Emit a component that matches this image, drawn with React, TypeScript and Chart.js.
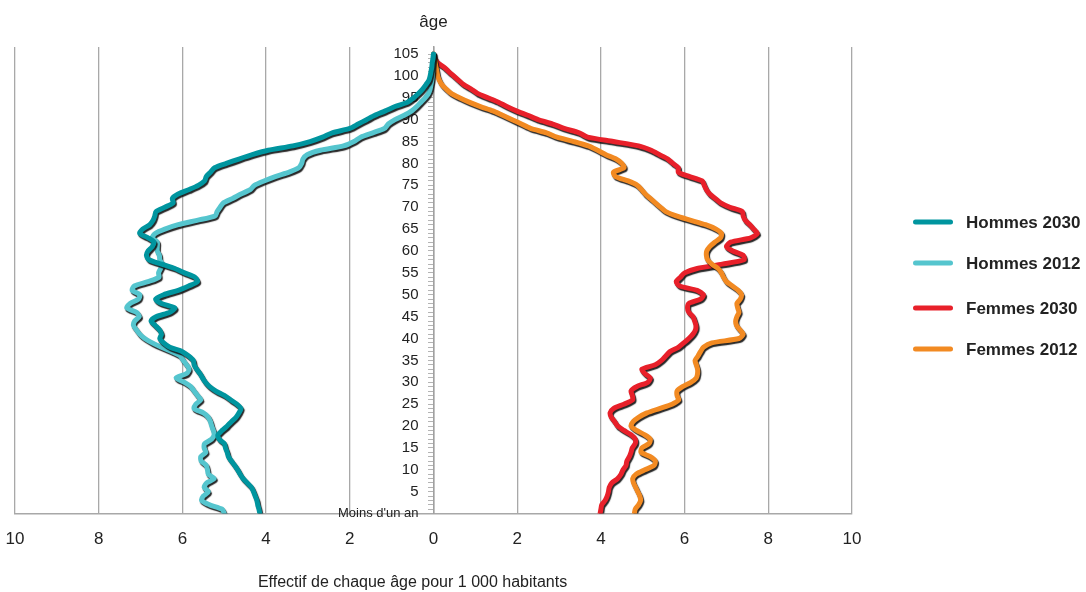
import { useEffect, useRef } from "react";
import { Chart, registerables } from "chart.js";

Chart.register(...registerables);

// Ages (y categories)
const ages = [
  0, 1, 2, 3, 4, 5, 6, 7, 8, 9, 10, 11, 12, 13, 14, 15, 16, 17, 18, 19,
  20, 21, 22, 23, 24, 25, 26, 27, 28, 29, 30, 31, 32, 33, 34, 35, 36, 37, 38, 39,
  40, 41, 42, 43, 44, 45, 46, 47, 48, 49, 50, 51, 52, 53, 54, 55, 56, 57, 58, 59,
  60, 61, 62, 63, 64, 65, 66, 67, 68, 69, 70, 71, 72, 73, 74, 75, 76, 77, 78, 79,
  80, 81, 82, 83, 84, 85, 86, 87, 88, 89, 90, 91, 92, 93, 94, 95, 96, 97, 98, 99,
  100, 101, 102, 103, 104, 105,
];

// Effectif de chaque âge pour 1 000 habitants
const hommes2030 = [
  4.15, 4.17, 4.2, 4.22, 4.26, 4.3, 4.35, 4.45, 4.55, 4.62,
  4.68, 4.75, 4.83, 4.9, 4.93, 4.97, 5.0, 5.12, 5.15, 5.05,
  4.93, 4.83, 4.72, 4.65, 4.6, 4.7, 4.85, 5.0, 5.2, 5.35,
  5.45, 5.52, 5.58, 5.66, 5.72, 5.74, 5.85, 6.0, 6.3, 6.45,
  6.54, 6.5, 6.55, 6.65, 6.75, 6.62, 6.3, 6.18, 6.5, 6.64,
  6.45, 6.1, 5.85, 5.64, 5.7, 5.95, 6.18, 6.5, 6.8, 6.86,
  6.82, 6.72, 6.68, 6.82, 7.02, 6.95, 6.78, 6.7, 6.66, 6.63,
  6.42, 6.22, 6.24, 6.1, 5.85, 5.62, 5.47, 5.43, 5.33, 5.23,
  4.95, 4.65, 4.33, 3.95, 3.36, 2.95, 2.65, 2.42, 2.0, 1.8,
  1.6, 1.4, 1.15, 0.92, 0.62, 0.47, 0.36, 0.26, 0.18, 0.11,
  0.08, 0.06, 0.04, 0.03, 0.01, 0.0,
];

const hommes2012 = [
  5.0, 5.05, 5.35, 5.54, 5.5, 5.38, 5.48, 5.42, 5.24, 5.38,
  5.4, 5.43, 5.55, 5.56, 5.44, 5.48, 5.47, 5.3, 5.24, 5.26,
  5.3, 5.33, 5.38, 5.5, 5.72, 5.68, 5.56, 5.64, 5.72, 5.8,
  5.95, 6.15, 5.9, 5.84, 5.9, 5.98, 6.05, 6.25, 6.5, 6.72,
  6.9, 7.02, 7.1, 7.17, 7.14, 7.03, 7.1, 7.33, 7.25, 7.05,
  7.02, 7.2, 7.15, 6.82, 6.56, 6.57, 6.52, 6.48, 6.54, 6.55,
  6.6, 6.6, 6.6, 6.72, 6.65, 6.42, 6.1, 5.65, 5.22, 5.17,
  5.1, 5.02, 4.8, 4.6, 4.38, 4.28, 4.05, 3.78, 3.45, 3.22,
  3.15, 3.12, 3.02, 2.7, 2.15, 1.9, 1.74, 1.45, 1.17, 1.08,
  0.92, 0.7, 0.52, 0.4, 0.3, 0.2, 0.12, 0.08, 0.06, 0.04,
  0.03, 0.02, 0.02, 0.01, 0.01, 0.0,
];

const femmes2030 = [
  3.98, 4.0, 4.02, 4.1, 4.15, 4.18, 4.2, 4.26, 4.4, 4.48,
  4.53, 4.6, 4.62, 4.68, 4.72, 4.75, 4.82, 4.82, 4.72, 4.55,
  4.4, 4.33, 4.25, 4.22, 4.3, 4.55, 4.76, 4.75, 4.72, 4.85,
  5.12, 5.18, 5.05, 4.98, 5.3, 5.45, 5.55, 5.65, 5.85, 5.98,
  6.1, 6.2, 6.26, 6.27, 6.24, 6.2, 6.1, 6.07, 6.1, 6.38,
  6.45, 6.3, 5.88, 5.8, 5.9, 6.0, 6.3, 6.9, 7.42, 7.4,
  7.15, 7.0, 7.1, 7.58, 7.74, 7.65, 7.56, 7.45, 7.4, 7.38,
  7.08, 6.86, 6.73, 6.6, 6.52, 6.47, 6.42, 6.12, 5.85, 5.85,
  5.72, 5.6, 5.4, 5.2, 4.9, 4.3, 3.68, 3.48, 3.12, 2.85,
  2.5, 2.25, 1.98, 1.75, 1.55, 1.3, 1.05, 0.9, 0.72, 0.6,
  0.48, 0.36, 0.25, 0.1, 0.03, 0.0,
];

const femmes2012 = [
  4.8, 4.82, 4.9, 4.95, 4.93, 4.88, 4.83, 4.78, 4.76, 4.84,
  5.05, 5.27, 5.3, 5.18, 4.96, 4.98, 5.15, 5.18, 5.05, 4.85,
  4.72, 4.77, 4.9, 5.1, 5.4, 5.7, 5.86, 5.82, 5.82, 5.95,
  6.15, 6.28, 6.31, 6.31, 6.28, 6.25, 6.32, 6.38, 6.45, 6.65,
  7.3, 7.4, 7.32, 7.24, 7.22, 7.25, 7.3, 7.27, 7.25, 7.33,
  7.36, 7.28, 7.14, 7.0, 6.93, 6.88, 6.8, 6.65, 6.55, 6.52,
  6.53, 6.6, 6.72, 6.86, 6.88, 6.75, 6.5, 6.15, 5.8, 5.55,
  5.42, 5.3, 5.18, 5.06, 4.97, 4.87, 4.65, 4.35, 4.3, 4.55,
  4.5, 4.36, 4.12, 3.92, 3.7, 3.35, 2.95, 2.7, 2.32, 2.1,
  1.88, 1.65, 1.42, 1.12, 0.85, 0.62, 0.42, 0.3, 0.2, 0.14,
  0.1, 0.08, 0.06, 0.04, 0.02, 0.0,
];

const seriesLabels = ["Hommes 2030", "Hommes 2012", "Femmes 2030", "Femmes 2012"];
const seriesColors = ["#00959f", "#55c5ce", "#e8202a", "#f28a22"];
const xTickValues = [-10, -8, -6, -4, -2, 0, 2, 4, 6, 8, 10];
const axisTitleTop = "âge";
const axisTitleBottom = "Effectif de chaque âge pour 1 000 habitants";
const youngestLabel = "Moins d'un an";

const FONT = "'Liberation Sans', Arial, Helvetica, sans-serif";

const lineShadow = {
  id: "lineShadow",
  beforeDatasetDraw(chart: any) {
    const c = chart.ctx;
    c.save();
    c.shadowColor = "rgba(15,15,15,0.9)";
    c.shadowOffsetX = 1.2;
    c.shadowOffsetY = 1.8;
    c.shadowBlur = 1;
  },
  afterDatasetDraw(chart: any) {
    chart.ctx.restore();
  },
};

const overlay = {
  id: "overlay",
  afterDraw(chart: any) {
    const c = chart.ctx;
    const xs = chart.scales.x;
    c.save();
    c.fillStyle = "#222";
    c.textAlign = "center";
    c.textBaseline = "alphabetic";
    c.font = `17px ${FONT}`;
    c.fillText(axisTitleTop, xs.getPixelForValue(0), 27);
    c.font = `16px ${FONT}`;
    c.fillText(axisTitleBottom, xs.getPixelForValue(-0.5), 587);

    // legend
    const legendY = [222, 263, 308, 349];
    c.lineCap = "round";
    c.lineWidth = 5;
    c.textAlign = "left";
    c.textBaseline = "middle";
    c.font = `bold 17px ${FONT}`;
    seriesLabels.forEach((lab, i) => {
      const y = legendY[i];
      c.strokeStyle = seriesColors[i];
      c.beginPath();
      c.moveTo(915.5, y);
      c.lineTo(950.5, y);
      c.stroke();
      c.fillStyle = "#222";
      c.fillText(lab, 966, y + 1);
    });
    c.restore();
  },
};

export default function App() {
  const ref = useRef<HTMLCanvasElement | null>(null);

  useEffect(() => {
    if (!ref.current) return;
    const series = [hommes2030, hommes2012, femmes2030, femmes2012];
    const male = [true, true, false, false];
    // draw order: index 0 drawn last (on top)
    const orderIdx = [0, 1, 3, 2];
    const datasets = orderIdx.map((i) => ({
      label: seriesLabels[i],
      data: ages.map((a, k) => ({ x: male[i] ? -series[i][k] : series[i][k], y: a })),
      borderColor: seriesColors[i],
      backgroundColor: seriesColors[i],
      borderWidth: 5,
      pointRadius: 0,
      tension: 0.25,
      borderJoinStyle: "round" as const,
      borderCapStyle: "round" as const,
      fill: false,
    }));

    const chart = new Chart(ref.current, {
      type: "line",
      data: { datasets },
      plugins: [lineShadow, overlay],
      options: {
        animation: false,
        responsive: true,
        maintainAspectRatio: false,
        events: [],
        layout: { padding: { top: 47, left: 15, right: 234, bottom: 26 } },
        plugins: {
          legend: { display: false },
          tooltip: { enabled: false },
          title: { display: false },
        },
        scales: {
          x: {
            type: "linear",
            position: "bottom",
            min: -10,
            max: 10,
            afterBuildTicks: (s: any) => {
              s.ticks = xTickValues.map((v) => ({ value: v }));
            },
            afterFit: (s: any) => {
              s.paddingLeft = 0;
              s.paddingRight = 0;
            },
            ticks: {
              callback: (v: any) => String(Math.abs(Number(v))),
              font: { family: FONT, size: 17 },
              color: "#222",
              padding: 16,
              maxRotation: 0,
            },
            grid: { color: "#a8a8a8", lineWidth: 1.3, drawTicks: false },
            border: { color: "#a8a8a8", width: 1.5 },
          },
          y: {
            type: "linear",
            position: "center",
            min: 0,
            max: 106.6,
            afterBuildTicks: (s: any) => {
              s.ticks = ages.map((v) => ({ value: v }));
            },
            ticks: {
              autoSkip: false,
              padding: 10,
              callback: (v: any) => {
                const n = Number(v);
                if (n === 0) return youngestLabel;
                return n % 5 === 0 ? String(n) : "";
              },
              font: (ctx: any) => ({
                family: FONT,
                size: ctx.tick && ctx.tick.value === 0 ? 13 : 15,
              }),
              color: "#222",
            },
            grid: { drawOnChartArea: false, drawTicks: true, tickLength: 5, color: "#b4b4b4", lineWidth: 1 },
            border: { color: "#a0a0a0", width: 1.5 },
          },
        },
      } as any,
    });
    return () => chart.destroy();
  }, []);

  return (
    <div style={{ position: "fixed", left: 0, top: 0, width: 1086, height: 592, background: "#fff" }}>
      <canvas ref={ref} />
    </div>
  );
}
